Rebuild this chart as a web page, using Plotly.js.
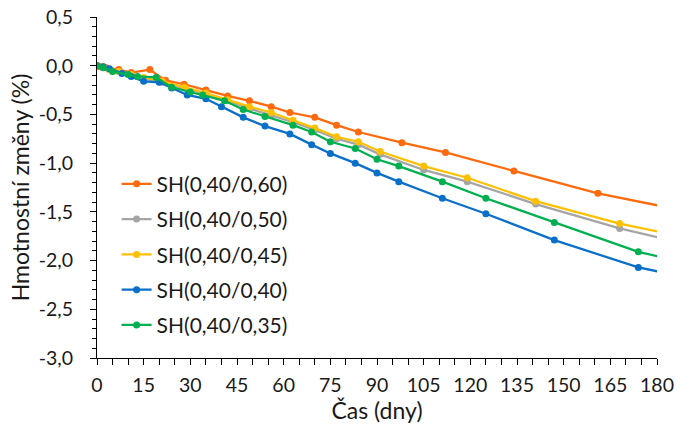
<!DOCTYPE html>
<html>
<head>
<meta charset="utf-8">
<script src="https://cdn.plot.ly/plotly-3.0.1.min.js"></script>
<style>
  html, body { margin: 0; padding: 0; background: #fff; }
  #chart { width: 696px; height: 427px; }
</style>
</head>
<body>
<div id="chart"></div>
<script>
// Mass change (%) of the mixtures over time (days)
const names = ['SH(0,40/0,60)', 'SH(0,40/0,50)', 'SH(0,40/0,45)', 'SH(0,40/0,40)', 'SH(0,40/0,35)'];
const colors = ['#FF6A0D', '#A5A5A5', '#FFC000', '#0A6FC8', '#00B050'];

const daysOrange = [0, 1, 3, 7, 11, 17, 22, 28, 35, 42, 49, 56, 62, 70, 77, 84, 98, 112, 134, 161, 182];
const valsOrange = [0, -0.01, -0.02, -0.04, -0.07, -0.04, -0.15, -0.19, -0.25, -0.31, -0.36, -0.42, -0.48, -0.53, -0.61, -0.68, -0.79, -0.89, -1.08, -1.31, -1.445];

const daysGray = [0, 2, 4, 7, 11, 15, 21, 28, 35, 42, 49, 56, 63, 70, 77, 84, 91, 105, 119, 141, 168, 182];
const valsGray = [0, -0.01, -0.04, -0.06, -0.09, -0.13, -0.17, -0.23, -0.29, -0.36, -0.44, -0.51, -0.58, -0.66, -0.75, -0.81, -0.91, -1.07, -1.19, -1.42, -1.67, -1.775];

const daysYellow = [0, 2, 4, 7, 11, 15, 21, 28, 35, 42, 49, 56, 63, 70, 77, 84, 91, 105, 119, 141, 168, 182];
const valsYellow = [0, -0.01, -0.04, -0.06, -0.09, -0.12, -0.16, -0.22, -0.28, -0.35, -0.42, -0.48, -0.56, -0.64, -0.73, -0.78, -0.88, -1.03, -1.15, -1.39, -1.62, -1.713];

const daysBlue = [0, 2, 4, 8, 11, 15, 20, 24, 29, 35, 40, 47, 54, 62, 69, 75, 83, 90, 97, 111, 125, 147, 174, 182];
const valsBlue = [0, -0.01, -0.03, -0.08, -0.11, -0.16, -0.17, -0.23, -0.30, -0.34, -0.42, -0.53, -0.62, -0.70, -0.81, -0.90, -1.00, -1.10, -1.19, -1.36, -1.52, -1.79, -2.07, -2.123];

const daysGreen = [0, 2, 5, 10, 13, 19, 24, 30, 34, 41, 47, 54, 63, 69, 75, 83, 90, 97, 111, 125, 147, 174, 182];
const valsGreen = [0, -0.02, -0.06, -0.09, -0.11, -0.12, -0.22, -0.27, -0.30, -0.36, -0.45, -0.52, -0.61, -0.68, -0.78, -0.85, -0.96, -1.03, -1.19, -1.36, -1.61, -1.91, -1.97];

const xTicks = [0, 15, 30, 45, 60, 75, 90, 105, 120, 135, 150, 165, 180];
const yTicks = [0.5, 0, -0.5, -1, -1.5, -2, -2.5, -3];
const yTickText = ['0,5', '0,0', '-0,5', '-1,0', '-1,5', '-2,0', '-2,5', '-3,0'];

const series = [
  [daysOrange, valsOrange],
  [daysGray, valsGray],
  [daysYellow, valsYellow],
  [daysBlue, valsBlue],
  [daysGreen, valsGreen]
];

// Later series are drawn on top, so green sits over blue etc.
const traces = series.map((s, i) => ({
  x: s[0],
  y: s[1],
  name: names[i],
  legendgroup: 'g' + i,
  type: 'scatter',
  mode: 'lines+markers',
  line: { color: colors[i], width: 2.25 },
  marker: { color: colors[i], size: 7 },
  cliponaxis: true
}));

const family = 'Lato, "Open Sans", sans-serif';
const tickFont = { family: family, size: 19.5, color: '#1a1a1a' };
const titleFont = { family: family, size: 23, color: '#1a1a1a' };

const layout = {
  width: 696,
  height: 427,
  margin: { l: 97, r: 39, t: 17, b: 69 },
  paper_bgcolor: '#ffffff',
  plot_bgcolor: '#ffffff',
  font: tickFont,
  showlegend: true,
  legend: {
    x: 0.035, y: 0.57, xanchor: 'left', yanchor: 'top',
    bgcolor: 'rgba(0,0,0,0)',
    font: { family: family, size: 21, color: '#1a1a1a' },
    traceorder: 'grouped',
    tracegroupgap: 5,
    itemwidth: 30
  },
  xaxis: {
    range: [0, 180],
    tickmode: 'array',
    tickvals: xTicks,
    ticktext: xTicks.map(String),
    ticks: 'outside',
    ticklen: 6,
    tickwidth: 1,
    tickcolor: '#000',
    ticklabelstandoff: 4,
    minor: { dtick: 5, ticks: 'outside', ticklen: 6, tickcolor: '#000', tickwidth: 1, showgrid: false },
    showline: true,
    linecolor: '#000',
    linewidth: 1,
    showgrid: false,
    zeroline: false,
    tickfont: tickFont,
    automargin: false,
    title: { text: 'Čas (dny)', font: titleFont, standoff: 0 }
  },
  yaxis: {
    range: [-3, 0.5],
    tickmode: 'array',
    tickvals: yTicks,
    ticktext: yTickText,
    ticks: 'outside',
    ticklen: 6,
    tickwidth: 1,
    tickcolor: '#000',
    ticklabelstandoff: 13,
    minor: { dtick: 0.1, tick0: 0, ticks: 'outside', ticklen: 4, tickcolor: '#000', tickwidth: 1, showgrid: false },
    showline: true,
    linecolor: '#000',
    linewidth: 1,
    showgrid: false,
    zeroline: false,
    tickfont: tickFont,
    automargin: false,
    title: { text: 'Hmotnostní změny (%)', font: titleFont, standoff: 2 }
  }
};

Plotly.newPlot('chart', traces, layout, { staticPlot: true, displayModeBar: false });
</script>
</body>
</html>
